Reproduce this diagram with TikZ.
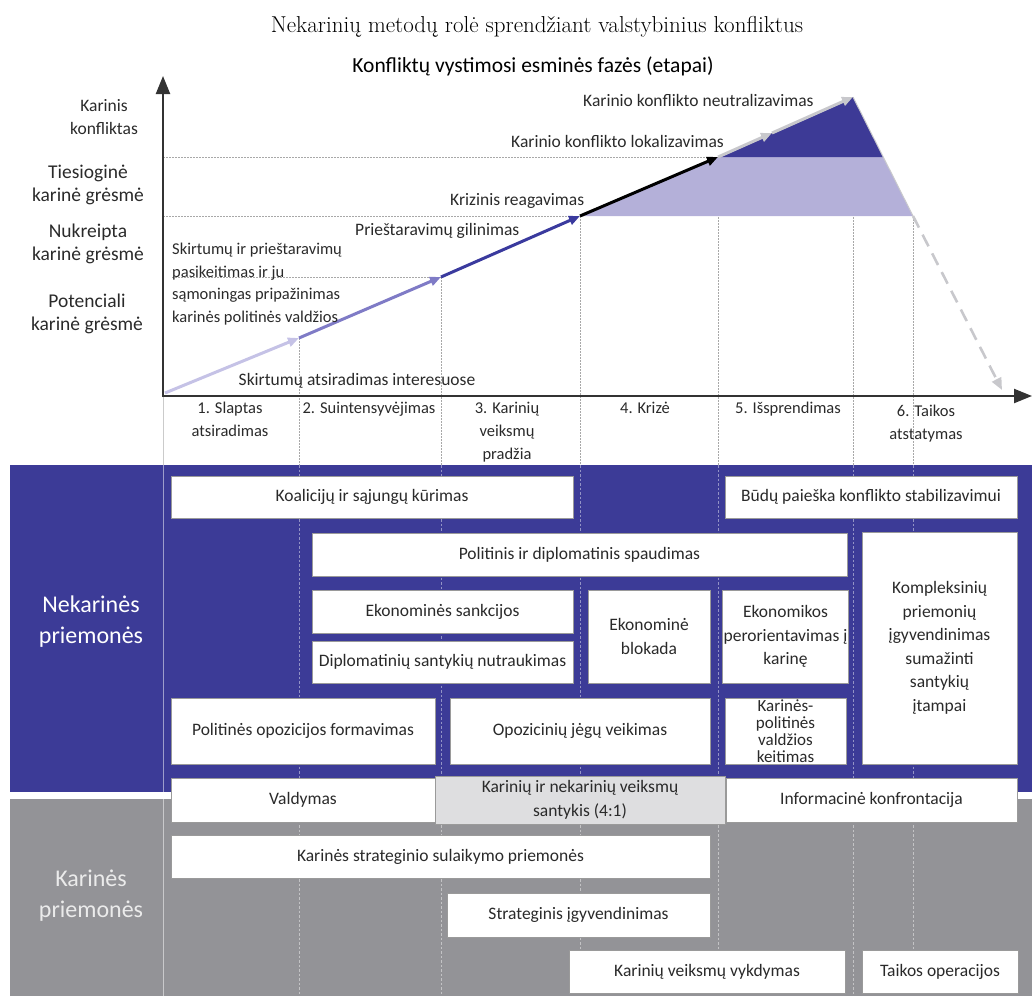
\documentclass[tikz,border=0pt]{standalone}
\usepackage{fontspec}
\setsansfont{Carlito}
\usetikzlibrary{arrows.meta}
\definecolor{bandblue}{HTML}{3C3B97}
\definecolor{bandgray}{HTML}{939397}
\definecolor{lavfill}{HTML}{B4B0D9}
\definecolor{darkfill}{HTML}{3D3A96}
\definecolor{segA}{HTML}{C5C2E6}
\definecolor{segB}{HTML}{7F7BC6}
\definecolor{segC}{HTML}{3A3A9E}
\definecolor{segE}{HTML}{C8C8CC}
\definecolor{txt}{HTML}{2A2A2A}
\definecolor{boxline}{HTML}{9A9A9A}
\definecolor{ratiofill}{HTML}{DEDEE0}
\definecolor{gridc}{HTML}{A8A8A8}
\definecolor{axisc}{HTML}{333333}
\newcommand\mybox[7][]{\node[box,#1, minimum width={(#4-#2)*1pt}, minimum height={(#5-#3)*1pt}] (#7) at ({(#2+#4)/2},{(#3+#5)/2}) {#6};}
\begin{document}
\begin{tikzpicture}[x=1pt,y=-1pt,
  box/.style={draw=boxline, fill=white, line width=0.8pt, align=center, inner sep=1pt,
    font=\sffamily\fontsize{17.5}{23.5}\selectfont, text=txt},
  lbl/.style={font=\sffamily\fontsize{17.5}{22.5}\selectfont, text=txt, inner sep=0pt},
  phase/.style={font=\sffamily\fontsize{16.5}{23}\selectfont, text=txt, align=center, inner sep=0pt},
  ylab/.style={font=\sffamily\fontsize{19.5}{23}\selectfont, text=txt, align=center, inner sep=0pt},
  grid/.style={gridc, line width=0.6pt, dash pattern=on 1.5pt off 1.5pt},
  bandgrid/.style={white, opacity=0.45, line width=0.7pt, dash pattern=on 2.5pt off 2pt},
  trend/.style={line width=3pt, -{Triangle[length=11pt,width=9pt]}},
  axis/.style={axisc, line width=2.2pt, -{Triangle[length=18pt,width=14pt]}}
]
\useasboundingbox (0,0) rectangle (1032,996);

% ---- bands ----
\fill[bandblue] (10,465) rectangle (1032,792);
\fill[bandgray] (10,799) rectangle (1032,996);
\draw[white, opacity=0.5, line width=0.7pt] (163,396) -- (163,996);
\foreach \xx in {299,441,580,718,853,913}{
  \draw[bandgrid] (\xx,465) -- (\xx,996);
}

% ---- upper grid ----
\draw[grid] (163,157) -- (718,157);
\draw[grid] (163,216) -- (580,216);
\draw[grid] (172,277) -- (441,277);
\draw[grid] (299,338) -- (299,465);
\draw[grid] (441,277) -- (441,465);
\draw[grid] (580,216) -- (580,465);
\draw[grid] (718,157) -- (718,465);
\draw[grid] (853,97) -- (853,465);
\draw[grid] (913,216) -- (913,465);
\draw[gridc!60, line width=0.7pt] (163,396) -- (163,465);

% ---- titles ----
\node[font=\fontsize{23}{26}\selectfont, text=black] (title) at (537,27) {Nekarinių metodų rolė sprendžiant valstybinius konfliktus};
\node[font=\sffamily\fontsize{21.5}{24}\selectfont, text=black] (subtitle) at (533,66) {Konfliktų vystimosi esminės fazės (etapai)};

% ---- y labels ----
\node[ylab, font=\sffamily\fontsize{17.5}{23}\selectfont] (ylA) at (104,117) {Karinis\\konfliktas};
\node[ylab] (ylB) at (88,185) {Tiesioginė\\karinė grėsmė};
\node[ylab] (ylC) at (88,244) {Nukreipta\\karinė grėsmė};
\node[ylab] (ylD) at (87,314) {Potenciali\\karinė grėsmė};

% ---- trend points ----
\coordinate (p0) at (165,393);
\coordinate (p1) at (299,338);
\coordinate (p2) at (441,277);
\coordinate (p3) at (580,216);
\coordinate (p4) at (718,157);
\coordinate (p5) at (772,133);
\coordinate (p6) at (853,97);
\coordinate (q1) at (883,157);
\coordinate (q2) at (913,216);
\coordinate (q3) at (1002,390);

% ---- fills ----
\fill[lavfill] (p3) -- (p4) -- (q1) -- (q2) -- cycle;
\fill[darkfill] (p4) -- (p6) -- (q1) -- cycle;
\draw[segE, line width=1pt] (p6) -- (q2);

% ---- trend arrows ----
\draw[trend, segA] (p0) -- (p1);
\draw[trend, segB] (p1) -- (p2);
\draw[trend, segC] (p2) -- (p3);
\draw[trend, black] (p3) -- (p4);
\draw[trend, segE] (p4) -- (p5);
\draw[trend, segE] (p5) -- (p6);
\draw[segE, line width=2.6pt, dash pattern=on 13pt off 8pt, -{Triangle[length=12pt,width=10pt]}] (q2) -- (q3);

% ---- axes ----
\coordinate (origin) at (163,396);
\coordinate (ytip) at (163,76);
\coordinate (xtip) at (1032,396);
\draw[axis] (origin) -- (ytip);
\draw[axis] ([xshift=-1.1pt]origin) -- (xtip);

% ---- chart labels ----
\node[lbl, anchor=west] (lN) at (583,100) {Karinio konflikto neutralizavimas};
\node[lbl, anchor=west] (lL) at (511,141) {Karinio konflikto lokalizavimas};
\node[lbl, anchor=west] (lK) at (450,201) {Krizinis reagavimas};
\node[lbl, anchor=west] (lP) at (355,231) {Prieštaravimų gilinimas};
\node[lbl, anchor=north west, align=left, font=\sffamily\fontsize{16.5}{22.5}\selectfont] (lS) at (172,243) {Skirtumų ir prieštaravimų\\pasikeitimas ir ju\\sąmoningas pripažinimas\\karinės politinės valdžios};
\node[lbl] (lA) at (357,381) {Skirtumų atsiradimas interesuose};

% ---- phase labels ----
\node[phase, anchor=north] (ph1) at (230,402) {1. Slaptas\\atsiradimas};
\node[phase, anchor=north] (ph2) at (369,402) {2. Suintensyvėjimas};
\node[phase, anchor=north] (ph3) at (507,402) {3. Karinių\\veiksmų\\pradžia};
\node[phase, anchor=north] (ph4) at (645,402) {4. Krizė};
\node[phase, anchor=north] (ph5) at (788,402) {5. Išsprendimas};
\node[phase, anchor=north] (ph6) at (926,405) {6. Taikos\\atstatymas};

% ---- band labels ----
\node[font=\sffamily\fontsize{24}{31}\selectfont, text=white, align=center] (nonmil) at (91,622) {Nekarinės\\priemonės};
\node[font=\sffamily\fontsize{24}{31}\selectfont, text=white!92!black, align=center] (mil) at (91,896) {Karinės\\priemonės};

% ---- boxes: non-military ----
\mybox{171}{476}{573}{518}{Koalicijų ir sąjungų kūrimas}{bA}
\mybox{725}{476}{1017}{518}{Būdų paieška konflikto stabilizavimui}{bB}
\mybox{312}{533}{847}{576}{Politinis ir diplomatinis spaudimas}{bC}
\mybox{312}{590}{573}{633}{Ekonominės sankcijos}{bD}
\mybox{312}{641}{573}{683}{Diplomatinių santykių nutraukimas}{bE}
\mybox{588}{590}{710}{683}{Ekonominė\\blokada}{bF}
\mybox{725}{590}{846}{683}{Ekonomikos\\perorientavimas į\\karinę}{bG}
\mybox{862}{532}{1017}{764}{\raisebox{-8pt}{\parbox{150pt}{\centering Kompleksinių\\priemonių\\įgyvendinimas\\sumažinti\\santykių\\įtampai}}}{bH}
\mybox{171}{698}{435}{764}{Politinės opozicijos formavimas}{bI}
\mybox{450}{698}{710}{764}{Opozicinių jėgų veikimas}{bJ}
\mybox[font=\sffamily\fontsize{17}{17}\selectfont]{725}{698}{846}{764}{Karinės-\\politinės\\valdžios\\keitimas}{bK}

% ---- boxes: boundary row ----
\mybox{171}{778}{435}{822}{Valdymas}{bL}
\mybox{726}{778}{1017}{822}{Informacinė konfrontacija}{bN}
\mybox[fill=ratiofill]{435}{776}{725}{824}{Karinių ir nekarinių veiksmų\\santykis (4:1)}{bM}

% ---- boxes: military ----
\mybox{171}{835}{710}{878}{Karinės strateginio sulaikymo priemonės}{bO}
\mybox{447}{893}{710}{937}{Strateginis įgyvendinimas}{bP}
\mybox{569}{950}{845}{993}{Karinių veiksmų vykdymas}{bQ}
\mybox{862}{950}{1018}{993}{Taikos operacijos}{bR}
\end{tikzpicture}
\end{document}
